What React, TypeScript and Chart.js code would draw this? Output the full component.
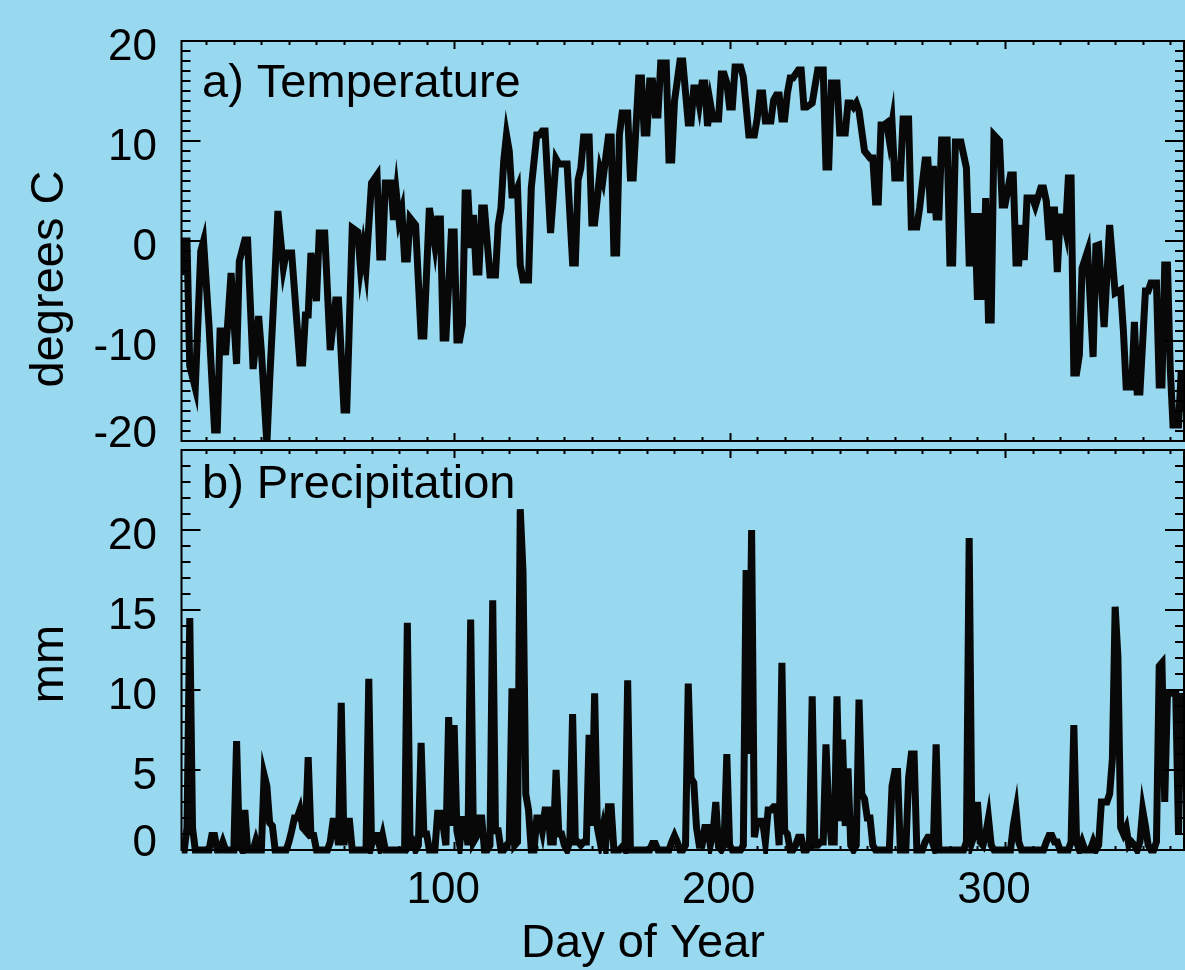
import React, { useEffect, useRef } from "react";
import { Chart, registerables } from "chart.js";

Chart.register(...registerables);

const W = 1185;
const H = 970;
const BG = "#99D9EF";
const FONT = "'Liberation Sans', Arial, Helvetica, sans-serif";

// ---- Temperature (day of year, degrees C), vertices ----
const tempDays = [
  1, 2, 3, 4, 6, 8, 9, 11, 13, 14,
  15, 16, 17, 19, 21, 22, 24, 25, 27, 29,
  30, 32, 33, 35, 36, 38, 39, 41, 44, 45,
  46, 47, 48, 50, 51, 53, 55, 57, 58, 60,
  61, 63, 65, 66, 67, 68, 70, 72, 73, 74,
  75, 77, 78, 79, 80, 81, 82, 83, 84, 86,
  88, 89, 91, 92, 93, 94, 95, 96, 97, 99,
  100, 101, 102, 103, 104, 105, 106, 107, 108, 109,
  110, 111, 112, 113, 115, 116, 117, 118, 119, 120,
  121, 122, 123, 124, 125, 127, 128, 130, 131, 132,
  133, 135, 137, 138, 141, 143, 144, 145, 146, 147,
  149, 150, 151, 152, 153, 154, 156, 157, 158, 159,
  160, 161, 163, 164, 165, 167, 168, 169, 170, 171,
  172, 173, 174, 175, 177, 178, 179, 180, 182, 183,
  185, 186, 187, 188, 189, 190, 191, 192, 193, 194,
  196, 197, 198, 199, 200, 201, 202, 204, 205, 207,
  209, 210, 211, 212, 213, 215, 216, 217, 218, 219,
  220, 221, 222, 223, 225, 226, 227, 228, 230, 232,
  234, 235, 236, 237, 239, 240, 242, 243, 244, 245,
  246, 247, 249, 251, 252, 253, 254, 255, 256, 257,
  258, 259, 260, 262, 263, 265, 266, 268, 269, 271,
  272, 273, 274, 275, 276, 277, 279, 280, 281, 282,
  284, 286, 287, 288, 289, 290, 291, 292, 293, 294,
  295, 296, 298, 299, 300, 302, 303, 304, 305, 306,
  307, 308, 310, 311, 313, 314, 315, 316, 317, 318,
  319, 320, 321, 322, 323, 324, 325, 326, 327, 328,
  330, 332, 333, 334, 336, 338, 340, 342, 343, 344,
  346, 347, 348, 349, 351, 352, 353, 355, 356, 357,
  358, 359, 360, 361, 363, 364, 365,
];
const tempC = [
  -3.4, 0, 0, -12.5, -14.7, -1, 0, -8.5, -18.9, -18.9,
  -9, -9, -11.4, -3.2, -12.3, -2, 0.1, 0.1, -12.8, -7.5,
  -11, -20.3, -14, -3, 3, -2.7, -1.2, -1.2, -12.2, -12.2,
  -7.4, -7.4, -1.2, -6, 0.8, 0.8, -10.9, -5.9, -5.9, -16.9,
  -16.9, 1.3, 0.9, -2.7, -0.7, -2.7, 5.8, 6.6, -1.6, -1.6,
  5.8, 5.8, 2.1, 4.8, 2.1, 3.1, -1.8, -1.8, 2.3, 1.6,
  -9.5, -9.5, 3.3, 1.5, -0.4, 2.2, 2.2, -9.7, -9.7, 0.9,
  0.9, -9.9, -9.9, -8.4, 4.8, 4.8, -0.7, 2.6, -3.1, -3.1,
  3.3, 3.3, -0.1, -3.4, -3.4, 1.6, 3.3, 8, 10.6, 9,
  4.6, 4.6, 5.3, -2.4, -3.9, -3.9, 5.3, 10.6, 10.6, 11,
  11, 0.8, 8.2, 7.7, 7.7, -2.2, -2.2, 6.1, 7.3, 10.4,
  10.4, 1.8, 1.8, 4.3, 7.1, 6.1, 10.4, 10.4, -1.2, -1.2,
  10.6, 12.8, 12.8, 6.3, 6.3, 16.3, 16.3, 10.8, 10.8, 16,
  16, 12.6, 12.6, 17.8, 17.8, 8.1, 8.1, 14, 18, 18,
  11.8, 11.8, 15.3, 15.3, 13.7, 15.8, 15.8, 11.5, 13.8, 12.2,
  12.2, 16.7, 16.7, 15.8, 13.4, 13.4, 17.4, 17.4, 16.4, 10.6,
  10.6, 12.2, 14.8, 14.8, 12, 12, 14.1, 14.6, 14.6, 12.2,
  12.2, 14.8, 16.3, 16.3, 17.1, 17.1, 13.4, 13.4, 13.8, 17.1,
  17.1, 7.4, 7.4, 15.8, 15.8, 10.8, 10.8, 13.8, 13.8, 13.4,
  13.8, 13, 9, 8.3, 8.3, 3.9, 3.9, 11.6, 11.6, 11.8,
  10.1, 11.8, 6.3, 6.3, 12.2, 12.2, 1.4, 1.4, 3.3, 8.1,
  8.1, 2.8, 7.5, 2.4, 2.4, 10.1, 10.1, -2.2, -2.2, 9.9,
  9.9, 7.3, -2.2, -2.2, 2.8, -5.9, 2.8, -5.9, 4.3, -7.9,
  -7.9, 10.6, 10, 3.6, 3.6, 6.6, 6.6, -2.2, -2.2, 1.6,
  -1.9, 4.3, 4.3, 3.5, 5.3, 5.3, 4, 0.1, 3.1, 3.1,
  -3.1, 2.4, 2.4, 1.1, 6.3, 6.3, -13.2, -13.2, -11.4, -2.7,
  -1, -11.6, -0.5, -0.4, -8.6, 1.6, -5.2, -4.9, -9, -14.6,
  -14.6, -8.1, -15.1, -15.1, -5, -5, -4.2, -4.2, -14.4, -14.4,
  -2.4, -2.4, -12.7, -18.4, -18.4, -13, -17,
];

// ---- Daily precipitation (mm), day 1 .. 365 ----
const precipMm = [
  0, 0, 1.4, 14.5, 1.4, 0, 0, 0, 0, 0, // 1-10
  0, 0.9, 0.9, 0, 0, 0.5, 0, 0, 0, 0, // 11-20
  6.8, 0.3, 0, 2.5, 0, 0, 0, 0.6, 0, 0, // 21-30
  4.7, 4.0, 1.7, 1.5, 0, 0, 0, 0, 0, 0.5, // 31-40
  1.2, 2.0, 2.0, 2.5, 1.4, 1.2, 5.8, 0.9, 0.9, 0, // 41-50
  0, 0, 0, 0, 0.5, 1.8, 1.8, 0.3, 9.2, 0.3, // 51-60
  1.8, 1.8, 0, 0, 0, 0, 0, 0, 10.7, 0.3, // 61-70
  0.9, 0.9, 0.2, 0.9, 0, 0, 0, 0, 0, 0, // 71-80
  0, 0, 14.2, 0.3, 0.5, 0, 0.3, 6.7, 1.0, 1.0, // 81-90
  0, 0, 0, 2.3, 2.3, 1.5, 0.3, 8.3, 1.5, 7.8, // 91-100
  1.2, 0.3, 1.9, 1.9, 0.3, 14.4, 0.5, 0.8, 2.0, 2.0, // 101-110
  0, 0, 0.3, 15.6, 1.2, 1.2, 0, 0, 0.3, 0.5, // 111-120
  10.1, 0.3, 0.5, 21.3, 17.4, 3.5, 2.5, 0, 0, 2.0, // 121-130
  2.0, 1.2, 2.5, 2.5, 0.5, 0.5, 5.0, 1.0, 1.0, 0.3, // 131-140
  0, 0.5, 8.5, 0.5, 0.5, 0.3, 0.5, 0.5, 7.2, 1.5, // 141-150
  9.8, 1.4, 0.5, 1.4, 0.3, 2.7, 2.7, 0, 0, 0, // 151-160
  0.2, 0, 10.6, 0, 0, 0, 0, 0, 0, 0, // 161-170
  0, 0.4, 0.4, 0, 0, 0, 0, 0, 0.5, 0.9, // 171-180
  0.5, 0, 0, 0.3, 10.4, 4.5, 4.2, 1.4, 0.3, 0.3, // 181-190
  1.4, 1.4, 0.3, 1.0, 3.0, 0.2, 0, 0.3, 6.0, 0.3, // 191-200
  0, 0, 0, 0, 0.3, 17.5, 6.0, 20.0, 0.8, 1.8, // 201-210
  1.8, 1.8, 0.5, 2.5, 2.5, 2.7, 2.7, 0.3, 11.7, 1.2, // 211-220
  1.0, 0, 0, 0.3, 0.8, 0.8, 0, 0, 0.3, 9.6, // 221-230
  0.3, 0.3, 0.5, 0.5, 6.6, 2.5, 0.5, 0.5, 9.6, 1.8, // 231-240
  6.9, 1.5, 5.1, 0.3, 0, 0.3, 9.4, 3.5, 3.2, 2.0, // 241-250
  2.0, 0.3, 0, 0, 0, 0, 0, 0, 4.0, 4.9, // 251-260
  4.9, 0, 0, 0, 4.5, 6.0, 6.0, 0, 0, 0, // 261-270
  0.5, 0.8, 0.8, 0.3, 6.6, 0, 0, 0, 0, 0, // 271-280
  0, 0, 0, 0, 0, 0.5, 19.5, 0.5, 1.0, 3.0, // 281-290
  0.5, 0.3, 1.0, 2.0, 0.3, 0, 0, 0, 0, 0, // 291-300
  0, 0, 1.5, 2.5, 0.5, 0, 0, 0, 0, 0, // 301-310
  0, 0, 0, 0, 0.5, 0.9, 0.9, 0.5, 0.5, 0, // 311-320
  0, 0, 0, 0.5, 7.8, 0.5, 0, 0.5, 0, 0, // 321-330
  0, 0.5, 0, 0.3, 3.0, 3.0, 3.0, 3.5, 5.7, 15.2, // 331-340
  12.1, 1.4, 1.0, 1.4, 0.3, 0.5, 0.3, 0, 0.5, 2.5, // 341-350
  1.5, 0.3, 0, 0, 0.5, 11.5, 11.7, 3.0, 9.8, 9.8, // 351-360
  9.8, 9.8, 1.0, 9.8, 8.5, // 361-365
];
const precipDays = precipMm.map((_, i) => i + 1);

// ---- Axis ticks / labels ----
const dayTickLabels = [100, 200, 300];
const tempTickLabels = [-20, -10, 0, 10, 20];
const precipTickLabels = [0, 5, 10, 15, 20];

interface PanelCfg {
  yMin: number;
  yMax: number;
  yMajorStep: number;
  yLabels: number[];
  yTitle: string;
  yTitleCenterY: number;
  panelLabel: string;
  panelLabelBaseline: number;
  showXLabels: boolean;
}

function makeFramePlugin(cfg: PanelCfg) {
  return {
    id: "idlFrame",
    afterDraw(chart: any) {
      const { ctx, chartArea: a, scales } = chart;
      const xs = scales.x;
      const ys = scales.y;
      ctx.save();
      ctx.strokeStyle = "#000";
      ctx.lineWidth = 2;
      ctx.strokeRect(a.left, a.top, a.right - a.left, a.bottom - a.top);

      ctx.beginPath();
      // x ticks (every 10 days, major every 100), pointing inward at top and bottom
      for (let d = 10; d <= 360; d += 10) {
        const px = Math.round(xs.getPixelForValue(d)) + 0.5;
        const len = d % 100 === 0 ? 8 : 4;
        ctx.moveTo(px, a.bottom);
        ctx.lineTo(px, a.bottom - len);
        ctx.moveTo(px, a.top);
        ctx.lineTo(px, a.top + len);
      }
      // y ticks (every 1 unit, major every yMajorStep), inward on left and right
      for (let v = cfg.yMin; v <= cfg.yMax; v += 1) {
        const py = Math.round(ys.getPixelForValue(v));
        const len = v % cfg.yMajorStep === 0 ? 19 : 9;
        ctx.moveTo(a.left, py);
        ctx.lineTo(a.left + len, py);
        ctx.moveTo(a.right, py);
        ctx.lineTo(a.right - len, py);
      }
      ctx.stroke();

      // y tick labels
      ctx.fillStyle = "#000";
      ctx.font = `44px ${FONT}`;
      ctx.textAlign = "right";
      ctx.textBaseline = "middle";
      for (const v of cfg.yLabels) {
        const py = ys.getPixelForValue(v);
        const off = v === cfg.yMin ? -6 : 7;
        ctx.fillText(String(v), 157, py + off);
      }

      // x tick labels
      if (cfg.showXLabels) {
        ctx.textAlign = "center";
        for (const d of dayTickLabels) {
          const px = xs.getPixelForValue(d);
          ctx.fillText(String(d), px - 11, a.bottom + 41);
        }
        ctx.font = `47px ${FONT}`;
        ctx.textBaseline = "alphabetic";
        ctx.fillText("Day of Year", 643, 957);
      }

      // y title (rotated)
      ctx.font = `47px ${FONT}`;
      ctx.textAlign = "center";
      ctx.textBaseline = "alphabetic";
      ctx.save();
      ctx.translate(63, cfg.yTitleCenterY);
      ctx.rotate(-Math.PI / 2);
      ctx.fillText(cfg.yTitle, 0, 0);
      ctx.restore();

      // panel label
      ctx.textAlign = "left";
      ctx.fillText(cfg.panelLabel, 202, cfg.panelLabelBaseline);
      ctx.restore();
    },
  };
}

function buildChart(
  canvas: HTMLCanvasElement,
  xs: number[],
  ys: number[],
  cfg: PanelCfg,
  padding: { left: number; right: number; top: number; bottom: number },
  clip: any
) {
  return new Chart(canvas, {
    type: "line",
    data: {
      datasets: [
        {
          data: xs.map((x, i) => ({ x, y: ys[i] })),
          borderColor: "#080808",
          borderWidth: 7,
          pointRadius: 0,
          tension: 0,
          fill: false,
          clip,
        },
      ],
    },
    options: {
      responsive: false,
      maintainAspectRatio: false,
      animation: false,
      events: [],
      layout: { padding },
      plugins: { legend: { display: false }, tooltip: { enabled: false } },
      scales: {
        x: { type: "linear", min: 1, max: 365, display: false },
        y: { type: "linear", min: cfg.yMin, max: cfg.yMax, display: false },
      },
    } as any,
    plugins: [makeFramePlugin(cfg)],
  });
}

export default function App() {
  const topRef = useRef<HTMLCanvasElement>(null);
  const botRef = useRef<HTMLCanvasElement>(null);

  useEffect(() => {
    const topCfg: PanelCfg = {
      yMin: -20,
      yMax: 20,
      yMajorStep: 10,
      yLabels: tempTickLabels,
      yTitle: "degrees C",
      yTitleCenterY: 279,
      panelLabel: "a) Temperature",
      panelLabelBaseline: 97,
      showXLabels: false,
    };
    const botCfg: PanelCfg = {
      yMin: 0,
      yMax: 25,
      yMajorStep: 5,
      yLabels: precipTickLabels,
      yTitle: "mm",
      yTitleCenterY: 664,
      panelLabel: "b) Precipitation",
      panelLabelBaseline: 498,
      showXLabels: true,
    };
    const c1 = buildChart(
      topRef.current!,
      tempDays,
      tempC,
      topCfg,
      { left: 181.5, right: 1, top: 41, bottom: H - 441 },
      0
    );
    const c2 = buildChart(
      botRef.current!,
      precipDays,
      precipMm,
      botCfg,
      { left: 181.5, right: 1, top: 450, bottom: H - 850 },
      { left: 0, right: 0, top: 0, bottom: 4 }
    );
    return () => {
      c1.destroy();
      c2.destroy();
    };
  }, []);

  const canvasStyle: React.CSSProperties = {
    position: "absolute",
    left: 0,
    top: 0,
    width: W,
    height: H,
    display: "block",
  };

  return (
    <div
      style={{
        position: "absolute",
        left: 0,
        top: 0,
        width: W,
        height: H,
        background: BG,
        overflow: "hidden",
      }}
    >
      <canvas ref={topRef} width={W} height={H} style={canvasStyle} />
      <canvas ref={botRef} width={W} height={H} style={canvasStyle} />
    </div>
  );
}
